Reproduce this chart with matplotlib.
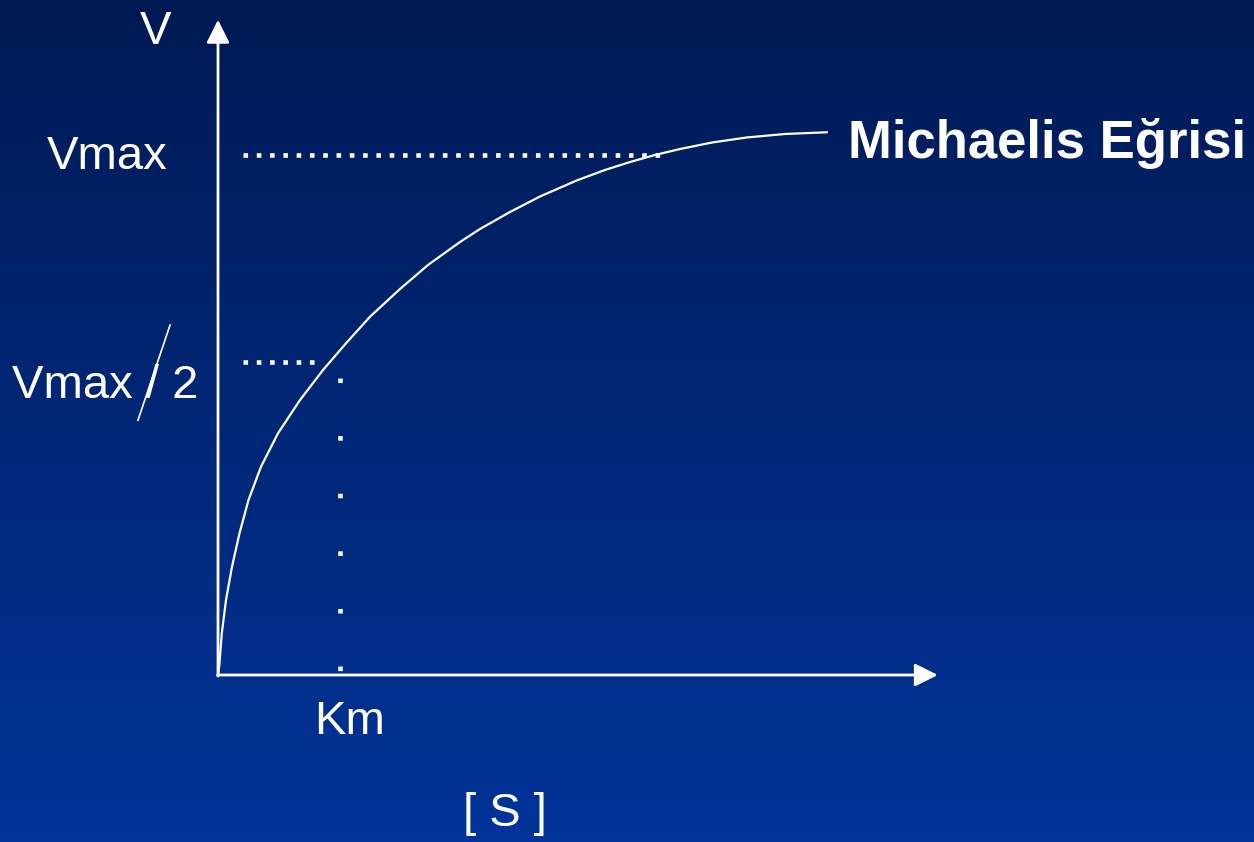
import matplotlib
matplotlib.use("Agg")
import matplotlib.pyplot as plt
import numpy as np

# Michaelis curve (S in units of Km, V in units of Vmax)
s_curve = [0.0, 0.0098, 0.0311, 0.0656, 0.1148, 0.1762, 0.2500, 0.3525, 0.4918,
           0.6721, 0.8607, 1.0492, 1.2459, 1.4918, 1.7213, 1.9836, 2.1475,
           2.3934, 2.6393, 2.9402, 3.1721, 3.3770, 3.5820, 3.7869, 4.0492,
           4.3336, 4.6475, 4.9893]
v_curve = [0.0, 0.0160, 0.0802, 0.1442, 0.2083, 0.2725, 0.3365, 0.4006, 0.4648,
           0.5288, 0.5865, 0.6379, 0.6890, 0.7423, 0.7885, 0.8327, 0.8577,
           0.8904, 0.9202, 0.9510, 0.9712, 0.9865, 1.0000, 1.0115, 1.0240,
           1.0337, 1.0404, 1.0437]

vmax = 1.0
vhalf = 0.602
km = 1.0
vmax_line_s = [0.205, 3.625]
vhalf_line_s = [0.205, 0.79]
km_line_v = [0.571, 0.005]
s_axis_end = 5.90
v_axis_end = 1.26

fig = plt.figure(figsize=(12.54, 8.42), dpi=100)
ax = fig.add_axes([0, 0, 1, 1])
xlim = (-218 / 122, (1254 - 218) / 122)
ylim = (-(842 - 675) / 520, 675 / 520)
ax.set_xlim(xlim)
ax.set_ylim(ylim)
ax.axis("off")

# background gradient
grad = np.linspace(0, 1, 256).reshape(-1, 1)
top = np.array([0.0, 0.10, 0.33])
bot = np.array([0.0, 0.205, 0.60])
img = top + (bot - top) * grad[:, :, None] * np.ones((1, 2, 1))
ax.imshow(img, extent=[xlim[0], xlim[1], ylim[0], ylim[1]], aspect="auto",
          origin="upper", zorder=0)

# axes arrows
arrow = dict(arrowstyle="-|>,head_length=1.0,head_width=0.5", color="white",
             lw=2, shrinkA=0, shrinkB=0, mutation_scale=14)
ax.annotate("", xy=(0, v_axis_end), xytext=(0, -0.002), arrowprops=arrow)
ax.annotate("", xy=(s_axis_end, 0), xytext=(-0.004, 0), arrowprops=arrow)

# curve
ax.plot(s_curve, v_curve, color="white", lw=1.6, solid_joinstyle="round", zorder=3)

# dotted guides
dot_lw = 3.3
ax.plot(vmax_line_s, [vmax, vmax], color="white", lw=dot_lw,
        linestyle=(0, (1, 1.9)), dash_capstyle="butt")
ax.plot(vhalf_line_s, [vhalf, vhalf], color="white", lw=dot_lw,
        linestyle=(0, (1, 1.9)), dash_capstyle="butt")
ax.plot([km, km], km_line_v, color="white", lw=dot_lw,
        linestyle=(0, (1, 11.57)), dash_capstyle="butt")

font = ["Liberation Sans", "DejaVu Sans"]
ax.text(-0.51, 1.237, "V", color="white", fontsize=34, family=font,
        ha="center", va="center")
ax.text(-0.91, 0.996, "Vmax", color="white", fontsize=34, family=font,
        ha="center", va="center")
ax.text(-1.69, 0.555, "Vmax / 2", color="white", fontsize=34, family=font,
        ha="left", va="center")
ax.plot([-0.393, -0.656], [0.673, 0.490], color="white", lw=1.2)
ax.text(km + 0.08, -0.09, "Km", color="white", fontsize=34, family=font,
        ha="center", va="center")
ax.text(2.35, -0.268, "[ S ]", color="white", fontsize=34, family=font,
        ha="center", va="center")
ax.text(5.16, 1.022, "Michaelis Eğrisi", color="white", fontsize=38,
        family=font, fontweight="bold", ha="left", va="center")

fig.savefig("out.png", dpi=100)
